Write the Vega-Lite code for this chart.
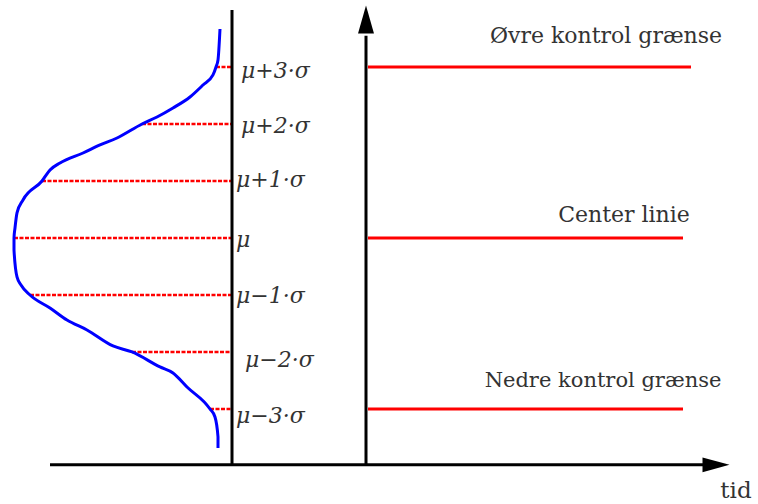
{
  "$schema": "https://vega.github.io/schema/vega-lite/v6.json",
  "width": 758,
  "height": 504,
  "padding": 0,
  "autosize": {"type": "none"},
  "config": {"view": {"stroke": null}},
  "datasets": {
    "curve": [
      {"x": 220, "y": 3.667}, {"x": 218, "y": 3.123}, {"x": 216, "y": 3.0}, {"x": 213, "y": 2.86},
      {"x": 203, "y": 2.684}, {"x": 190, "y": 2.474}, {"x": 173, "y": 2.281}, {"x": 157, "y": 2.123},
      {"x": 142, "y": 2.0}, {"x": 117, "y": 1.754}, {"x": 100, "y": 1.632}, {"x": 83, "y": 1.491},
      {"x": 60, "y": 1.316}, {"x": 50, "y": 1.193}, {"x": 42, "y": 1.0}, {"x": 23, "y": 0.667},
      {"x": 17, "y": 0.439}, {"x": 15, "y": 0.175}, {"x": 14, "y": 0.0}, {"x": 14, "y": -0.211},
      {"x": 17, "y": -0.684}, {"x": 21, "y": -0.825}, {"x": 30, "y": -1.0}, {"x": 50, "y": -1.228},
      {"x": 67, "y": -1.439}, {"x": 87, "y": -1.614}, {"x": 113, "y": -1.895}, {"x": 132, "y": -2.0},
      {"x": 160, "y": -2.263}, {"x": 173, "y": -2.368}, {"x": 187, "y": -2.614}, {"x": 210, "y": -3.0},
      {"x": 215, "y": -3.14}, {"x": 218, "y": -3.49}, {"x": 218, "y": -3.684}
    ],
    "dotted": [
      {"y": 3, "x": 216, "x2": 232}, {"y": 2, "x": 142, "x2": 232}, {"y": 1, "x": 42, "x2": 232},
      {"y": 0, "x": 14, "x2": 232}, {"y": -1, "x": 30, "x2": 232}, {"y": -2, "x": 132, "x2": 232},
      {"y": -3, "x": 210, "x2": 232}
    ],
    "vlines": [
      {"x": 232, "y": 4.0, "y2": -3.98},
      {"x": 366, "y": 3.55, "y2": -3.98}
    ],
    "hlines": [
      {"y": -3.98, "x": 50, "x2": 705}
    ],
    "control": [
      {"y": 3, "x": 368, "x2": 691},
      {"y": 0, "x": 368, "x2": 683},
      {"y": -3, "x": 368, "x2": 683}
    ],
    "arrowUp": [{"x": 366, "y": 3.833}],
    "arrowRight": [{"x": 716, "y": -3.98}],
    "ctrlText": [
      {"x": 606, "y": 3.42, "label": "Øvre kontrol grænse"}
    ],
    "nedreText": [
      {"x": 603, "y": -2.61, "label": "Nedre kontrol grænse"}
    ],
    "centerText": [{"x": 624, "y": 0.28, "label": "Center linie"}],
    "tidText": [{"x": 736, "y": -4.57, "label": "tid"}],
    "muText": [
      {"x": 241, "y": 2.807, "label": "μ+3·σ"},
      {"x": 241, "y": 1.842, "label": "μ+2·σ"},
      {"x": 236, "y": 0.895, "label": "μ+1·σ"},
      {"x": 236, "y": -0.158, "label": "μ"},
      {"x": 236, "y": -1.14, "label": "μ−1·σ"},
      {"x": 245, "y": -2.263, "label": "μ−2·σ"},
      {"x": 236, "y": -3.246, "label": "μ−3·σ"}
    ]
  },
  "encoding": {
    "x": {"field": "x", "type": "quantitative", "scale": {"domain": [0, 758], "nice": false, "zero": false}, "axis": null},
    "y": {"field": "y", "type": "quantitative", "scale": {"domain": [-4.667, 4.175], "nice": false, "zero": false}, "axis": null}
  },
  "layer": [
    {
      "data": {"name": "dotted"},
      "mark": {"type": "rule", "color": "#ff0000", "strokeWidth": 2.5, "strokeDash": [4, 1.5]},
      "encoding": {"x2": {"field": "x2"}}
    },
    {
      "data": {"name": "curve"},
      "mark": {"type": "line", "color": "#0000ff", "strokeWidth": 3, "interpolate": "monotone"},
      "encoding": {"order": {"field": "y", "sort": "descending"}}
    },
    {
      "data": {"name": "vlines"},
      "mark": {"type": "rule", "color": "#000000", "strokeWidth": 3},
      "encoding": {"y2": {"field": "y2"}}
    },
    {
      "data": {"name": "hlines"},
      "mark": {"type": "rule", "color": "#000000", "strokeWidth": 3},
      "encoding": {"x2": {"field": "x2"}}
    },
    {
      "data": {"name": "control"},
      "mark": {"type": "rule", "color": "#ff0000", "strokeWidth": 3},
      "encoding": {"x2": {"field": "x2"}}
    },
    {
      "data": {"name": "arrowUp"},
      "mark": {"type": "point", "filled": true, "color": "#000000", "opacity": 1, "size": 784, "shape": "M0,-1L0.57,1L-0.57,1Z"}
    },
    {
      "data": {"name": "arrowRight"},
      "mark": {"type": "point", "filled": true, "color": "#000000", "opacity": 1, "size": 729, "shape": "M1,0L-1,-0.55L-1,0.55Z"}
    },
    {
      "data": {"name": "ctrlText"},
      "mark": {"type": "text", "font": "DejaVu Serif", "fontSize": 22, "align": "center", "baseline": "alphabetic", "color": "#333333"},
      "encoding": {"text": {"field": "label"}}
    },
    {
      "data": {"name": "nedreText"},
      "mark": {"type": "text", "font": "DejaVu Serif", "fontSize": 21, "align": "center", "baseline": "alphabetic", "color": "#333333"},
      "encoding": {"text": {"field": "label"}}
    },
    {
      "data": {"name": "centerText"},
      "mark": {"type": "text", "font": "DejaVu Serif", "fontSize": 22, "align": "center", "baseline": "alphabetic", "color": "#333333"},
      "encoding": {"text": {"field": "label"}}
    },
    {
      "data": {"name": "tidText"},
      "mark": {"type": "text", "font": "DejaVu Serif", "fontSize": 23, "align": "center", "baseline": "alphabetic", "color": "#333333"},
      "encoding": {"text": {"field": "label"}}
    },
    {
      "data": {"name": "muText"},
      "mark": {"type": "text", "font": "DejaVu Serif", "fontStyle": "italic", "fontSize": 22, "align": "left", "baseline": "alphabetic", "color": "#333333"},
      "encoding": {"text": {"field": "label"}}
    }
  ]
}
